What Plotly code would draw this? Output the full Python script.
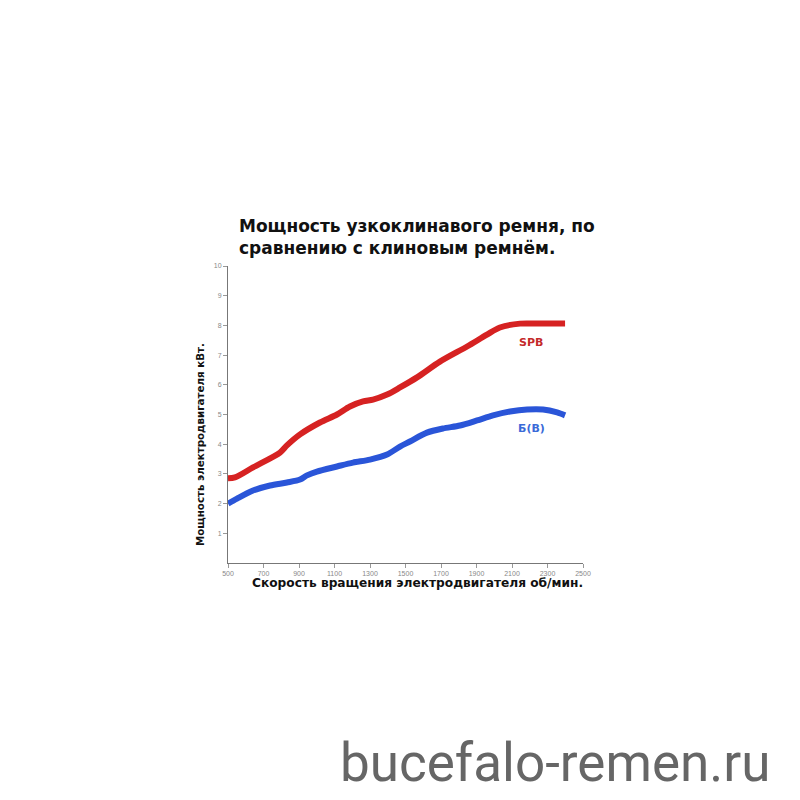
import plotly.graph_objects as go

# Data
spb_rpm = [500, 539, 641, 793, 832, 906, 1018, 1114, 1187, 1261, 1317, 1396, 1469, 1565, 1694, 1847, 1959, 2032, 2145, 2258, 2399]
spb_kw = [2.85, 2.88, 3.22, 3.72, 3.96, 4.33, 4.73, 5.0, 5.27, 5.44, 5.50, 5.67, 5.91, 6.25, 6.78, 7.29, 7.69, 7.93, 8.06, 8.06, 8.06]

b_rpm = [500, 551, 641, 737, 832, 906, 945, 1001, 1114, 1204, 1300, 1396, 1469, 1525, 1621, 1711, 1807, 1903, 1993, 2089, 2185, 2275, 2354, 2399]
b_kw = [2.0, 2.17, 2.44, 2.61, 2.71, 2.81, 2.95, 3.08, 3.25, 3.38, 3.48, 3.65, 3.92, 4.09, 4.39, 4.53, 4.63, 4.80, 4.97, 5.10, 5.17, 5.17, 5.07, 4.97]

x_ticks = [500, 700, 900, 1100, 1300, 1500, 1700, 1900, 2100, 2300, 2500]
y_ticks = [1, 2, 3, 4, 5, 6, 7, 8, 9, 10]

title_line1 = "Мощность узкоклинавого ремня, по"
title_line2 = "сравнению с клиновым ремнём."
x_title = "Скорость вращения электродвигателя об/мин."
y_title = "Мощность электродвигателя кВт."
watermark = "bucefalo-remen.ru"

RED = "#d62222"
BLUE = "#2a55d8"

fig = go.Figure()
fig.add_trace(go.Scatter(x=spb_rpm, y=spb_kw, mode="lines", name="SPB",
                         line=dict(color=RED, width=6, shape="spline", smoothing=0.8)))
fig.add_trace(go.Scatter(x=b_rpm, y=b_kw, mode="lines", name="Б(В)",
                         line=dict(color=BLUE, width=6, shape="spline", smoothing=0.8)))

axis_font = dict(family="Liberation Sans Narrow, Liberation Sans, sans-serif", size=7, color="#888888")

fig.update_xaxes(range=[500, 2500], tickvals=x_ticks, ticktext=[str(v) for v in x_ticks],
                 showgrid=False, zeroline=False, showline=True, linecolor="#777777", linewidth=1,
                 ticks="outside", ticklen=4, tickcolor="#999999", tickfont=axis_font)
fig.update_yaxes(range=[0, 10], tickvals=y_ticks, ticktext=[str(v) for v in y_ticks],
                 showgrid=False, zeroline=False, showline=True, linecolor="#777777", linewidth=1,
                 ticks="outside", ticklen=4, tickcolor="#999999", tickfont=axis_font)

# page pixel -> paper coordinates (plot area spans 228..583 x, 266..563 y on the page)
def px_x(px):
    return (px - 228) / 355.0

def px_y(py):
    return (563 - py) / 297.0

bold = "DejaVu Sans, sans-serif"

annotations = [
    dict(text="<b>" + title_line1 + "<br>" + title_line2 + "</b>", x=px_x(237), y=px_y(237),
         xref="paper", yref="paper", xanchor="left", yanchor="middle", align="left", showarrow=False,
         font=dict(family=bold, size=17, color="#111111")),
    dict(text="<b>" + x_title + "</b>", x=px_x(417), y=px_y(583), xref="paper", yref="paper",
         xanchor="center", yanchor="middle", showarrow=False,
         font=dict(family=bold, size=12.2, color="#111111")),
    dict(text="<b>" + y_title + "</b>", x=px_x(200), y=px_y(445), xref="paper", yref="paper",
         xanchor="center", yanchor="middle", showarrow=False, textangle=-90,
         font=dict(family=bold, size=10.3, color="#111111")),
    dict(text="<b>SPB</b>", x=px_x(531), y=px_y(342), xref="paper", yref="paper",
         xanchor="center", yanchor="middle", showarrow=False,
         font=dict(family=bold, size=11, color="#c42a2a")),
    dict(text="<b>Б(В)</b>", x=px_x(531), y=px_y(428), xref="paper", yref="paper",
         xanchor="center", yanchor="middle", showarrow=False,
         font=dict(family=bold, size=11, color="#3a6ad8")),
    dict(text=watermark, x=px_x(555), y=px_y(763), xref="paper", yref="paper",
         xanchor="center", yanchor="middle", showarrow=False,
         font=dict(family="Roboto, sans-serif", size=53, color="#666666")),
]

# The page body adds an 8px margin, so the figure is 792x792 and shifted accordingly
fig.update_layout(width=792, height=792, autosize=False,
                  margin=dict(l=220, r=217, t=258, b=237),
                  paper_bgcolor="white", plot_bgcolor="white",
                  showlegend=False, annotations=annotations)

fig.write_html("out.html")
